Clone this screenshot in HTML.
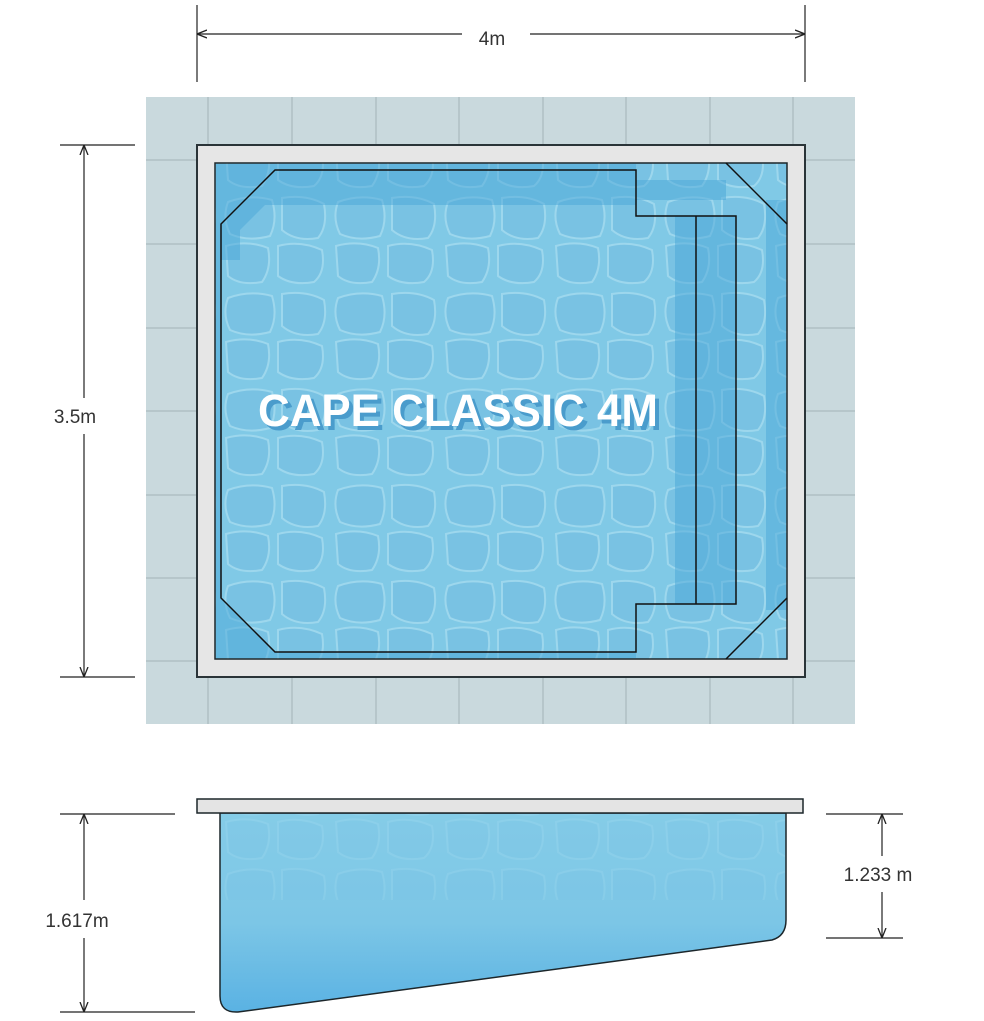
<!DOCTYPE html>
<html><head><meta charset="utf-8"><style>
html,body{margin:0;padding:0;background:#fff;}
svg{display:block;}
text{font-family:"Liberation Sans",Arial,sans-serif;}
</style></head><body>
<svg width="984" height="1021" viewBox="0 0 984 1021" xmlns="http://www.w3.org/2000/svg">
<defs>
<pattern id="w" width="110" height="96" patternUnits="userSpaceOnUse">
<rect width="110" height="96" fill="#80c9e6"/>
<path d="M8 10 Q30 2 52 8 Q58 28 50 44 Q28 50 10 42 Q2 26 8 10Z M62 6 Q86 2 104 12 Q108 34 98 46 Q76 50 62 38Z M6 54 Q28 48 48 56 Q52 76 42 90 Q20 94 8 84Z M58 54 Q80 48 102 58 Q106 80 94 90 Q72 94 58 84Z" fill="#77c1e2" stroke="#a4dbef" stroke-width="2" opacity="0.8"/>
</pattern>
<linearGradient id="g" x1="0" y1="0" x2="0" y2="1">
<stop offset="0" stop-color="#86cde8"/><stop offset="0.55" stop-color="#7cc6e6"/><stop offset="1" stop-color="#5ab2e3"/>
</linearGradient>
<marker id="a" viewBox="0 0 10 10" refX="10" refY="5" markerWidth="10" markerHeight="10" orient="auto-start-reverse" markerUnits="userSpaceOnUse"><path d="M0 1 L10 5 L0 9" fill="none" stroke="#222" stroke-width="1.3"/></marker>
</defs>

<rect x="146" y="97" width="709" height="627" fill="#c9d9dd"/>
<g stroke="#a2b4b8" stroke-width="1">
<line x1="208" y1="97" x2="208" y2="724"/><line x1="292" y1="97" x2="292" y2="724"/><line x1="376" y1="97" x2="376" y2="724"/><line x1="459" y1="97" x2="459" y2="724"/><line x1="543" y1="97" x2="543" y2="724"/><line x1="626" y1="97" x2="626" y2="724"/><line x1="710" y1="97" x2="710" y2="724"/><line x1="793" y1="97" x2="793" y2="724"/>
<line x1="146" y1="160" x2="855" y2="160"/><line x1="146" y1="244" x2="855" y2="244"/><line x1="146" y1="328" x2="855" y2="328"/><line x1="146" y1="411" x2="855" y2="411"/><line x1="146" y1="495" x2="855" y2="495"/><line x1="146" y1="578" x2="855" y2="578"/><line x1="146" y1="661" x2="855" y2="661"/>
</g>

<rect x="197" y="145" width="608" height="532" fill="#e6e6e6" stroke="#2a3438" stroke-width="2"/>
<rect x="215" y="163" width="572" height="496" fill="url(#w)" stroke="#1c262a" stroke-width="1.5"/>
<g fill="#4aa7d8" opacity="0.5">
<path d="M216 164 L636 164 L636 216 L716 216 L716 604 L636 604 L636 658 L216 658 Z M275 170 L221 224 L221 598 L275 652 L636 652 L636 604 L696 604 L696 216 L636 216 L636 170 Z" fill-rule="evenodd"/>
<path d="M265 170 L636 170 L636 205 L262 205 Z"/>
<path d="M221 224 L265 180 L265 205 L240 230 L240 260 L221 260 Z"/>
<rect x="675" y="216" width="21" height="388"/>
<rect x="716" y="216" width="20" height="388"/>
<rect x="766" y="200" width="20" height="410"/>
<rect x="636" y="180" width="90" height="20"/>
</g>
<g fill="none" stroke="#111" stroke-width="1.5">
<path d="M275 170 L636 170 L636 216 L736 216 L736 604 L636 604 L636 652 L275 652 L221 598 L221 224 Z"/>
<line x1="696" y1="216" x2="696" y2="604"/>
<line x1="726" y1="163" x2="787" y2="224"/>
<line x1="726" y1="659" x2="787" y2="598"/>
</g>
<text x="262" y="430" font-size="45" font-weight="bold" fill="#4a9ccc" textLength="400" lengthAdjust="spacingAndGlyphs">CAPE CLASSIC 4M</text>
<text x="258" y="426" font-size="45" font-weight="bold" fill="#fff" textLength="400" lengthAdjust="spacingAndGlyphs">CAPE CLASSIC 4M</text>

<g stroke="#222" stroke-width="1.2" fill="none">
<line x1="197" y1="5" x2="197" y2="82"/><line x1="805" y1="5" x2="805" y2="82"/>
<line x1="197" y1="34" x2="462" y2="34" marker-start="url(#a)"/>
<line x1="530" y1="34" x2="805" y2="34" marker-end="url(#a)"/>
<line x1="60" y1="145" x2="135" y2="145"/><line x1="60" y1="677" x2="135" y2="677"/>
<line x1="84" y1="145" x2="84" y2="398" marker-start="url(#a)"/>
<line x1="84" y1="434" x2="84" y2="677" marker-end="url(#a)"/>
<line x1="60" y1="814" x2="175" y2="814"/><line x1="60" y1="1012" x2="195" y2="1012"/>
<line x1="84" y1="814" x2="84" y2="900" marker-start="url(#a)"/>
<line x1="84" y1="938" x2="84" y2="1012" marker-end="url(#a)"/>
<line x1="826" y1="814" x2="903" y2="814"/><line x1="826" y1="938" x2="903" y2="938"/>
<line x1="882" y1="814" x2="882" y2="856" marker-start="url(#a)"/>
<line x1="882" y1="892" x2="882" y2="938" marker-end="url(#a)"/>
</g>
<g font-size="19" fill="#333" text-anchor="middle">
<text x="492" y="45">4m</text>
<text x="75" y="423">3.5m</text>
<text x="77" y="927">1.617m</text>
<text x="878" y="881">1.233 m</text>
</g>

<path d="M220 813 L220 996 Q220 1013 238 1012 L772 940 Q786 936 786 920 L786 813 Z" fill="url(#g)" stroke="#1c262a" stroke-width="1.5"/>
<path d="M221 814 L785 814 L785 900 L221 900 Z" fill="url(#w)" opacity="0.3"/>
<rect x="197" y="799" width="606" height="14" fill="#e4e4e4" stroke="#1c262a" stroke-width="1.5"/>
</svg>
</body></html>
